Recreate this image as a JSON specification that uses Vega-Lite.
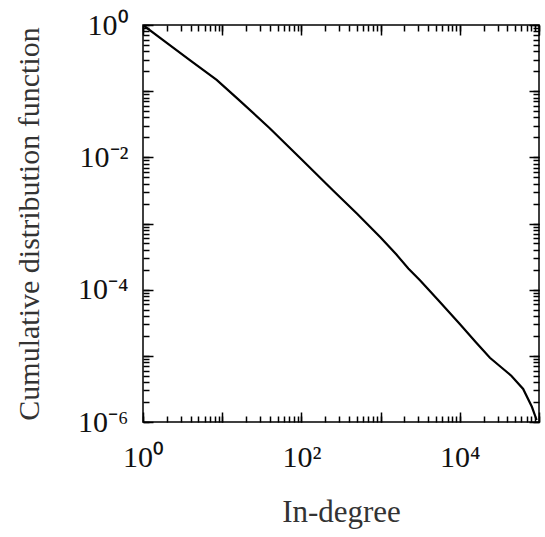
{
  "$schema": "https://vega.github.io/schema/vega-lite/v6.json",
  "width": 396,
  "height": 397,
  "autosize": "none",
  "padding": {"left": 143, "top": 25, "right": 6, "bottom": 115},
  "background": "white",
  "config": {
    "view": {"stroke": "black", "strokeWidth": 1.5},
    "axis": {"domain": false, "grid": false, "labelFont": "Liberation Serif", "titleFont": "Liberation Serif", "labelColor": "#111", "tickColor": "black", "tickWidth": 1.5}
  },
  "data": {
    "values": [
      {"degree": 1, "cdf": 1},
      {"degree": 1.995, "cdf": 0.537},
      {"degree": 3.981, "cdf": 0.2884},
      {"degree": 8.511, "cdf": 0.1479},
      {"degree": 15.85, "cdf": 0.07586},
      {"degree": 39.81, "cdf": 0.02754},
      {"degree": 100, "cdf": 0.009333},
      {"degree": 251.2, "cdf": 0.003162},
      {"degree": 501.2, "cdf": 0.001413},
      {"degree": 1000, "cdf": 0.0006166},
      {"degree": 1585, "cdf": 0.0003388},
      {"degree": 2239, "cdf": 0.0002089},
      {"degree": 3162, "cdf": 0.000138},
      {"degree": 5248, "cdf": 0.00007079},
      {"degree": 10000, "cdf": 0.0000302},
      {"degree": 15849, "cdf": 0.00001622},
      {"degree": 23988, "cdf": 0.000009333},
      {"degree": 31623, "cdf": 0.000007079},
      {"degree": 44668, "cdf": 0.000005012},
      {"degree": 63096, "cdf": 0.000003162},
      {"degree": 81283, "cdf": 0.000001698},
      {"degree": 93325, "cdf": 0.000001072}
    ]
  },
  "layer": [
    {
      "mark": {"type": "line", "color": "black", "strokeWidth": 2.2, "clip": true},
      "encoding": {
        "x": {"field": "degree", "type": "quantitative",
          "scale": {"type": "log", "domain": [1, 100000], "nice": false},
          "axis": {"orient": "bottom", "values": [1, 100, 10000], "labelExpr": "datum.value == 1 ? '10⁰' : datum.value == 100 ? '10²' : '10⁴'", "ticks": false, "labelPadding": 20, "labelFontSize": 30, "labelFlush": false, "labelDx": 7, "title": "In-degree", "titleFontSize": 31, "titleFontWeight": "normal", "titleColor": "#333", "titlePadding": 25}},
        "y": {"field": "cdf", "type": "quantitative",
          "scale": {"type": "log", "domain": [0.000001, 1], "nice": false},
          "axis": {"orient": "left", "values": [0.000001, 0.0001, 0.01, 1], "labelExpr": "datum.value == 1 ? '10⁰' : datum.value == 0.01 ? '10⁻²' : datum.value == 0.0001 ? '10⁻⁴' : '10⁻⁶'", "ticks": false, "labelPadding": 15, "labelFontSize": 30, "labelFlush": false, "labelDy": 4, "title": "Cumulative distribution function", "titleFontSize": 30, "titleFontWeight": "normal", "titleColor": "#333", "titlePadding": 33}}
      }
    },
    {
      "mark": {"type": "line", "opacity": 0},
      "encoding": {
        "x": {"field": "degree", "type": "quantitative", "scale": {"type": "log", "domain": [1, 100000], "nice": false},
          "axis": {"orient": "bottom", "tickCount": 500, "values": [1,2,3,4,5,6,7,8,9,10,20,30,40,50,60,70,80,90,100,200,300,400,500,600,700,800,900,1000,2000,3000,4000,5000,6000,7000,8000,9000,10000,20000,30000,40000,50000,60000,70000,80000,90000,100000], "labels": false, "tickSize": -6, "title": null}},
        "y": {"field": "cdf", "type": "quantitative", "scale": {"type": "log", "domain": [0.000001, 1], "nice": false},
          "axis": {"orient": "left", "tickCount": 500, "values": [0.000001,0.000002,0.000003,0.000004,0.000005,0.000006,0.000007,0.000008,0.000009,0.00001,0.00002,0.00003,0.00004,0.00005,0.00006,0.00007,0.00008,0.00009,0.0001,0.0002,0.0003,0.0004,0.0005,0.0006,0.0007,0.0008,0.0009,0.001,0.002,0.003,0.004,0.005,0.006,0.007,0.008,0.009,0.01,0.02,0.03,0.04,0.05,0.06,0.07,0.08,0.09,0.1,0.2,0.3,0.4,0.5,0.6,0.7,0.8,0.9,1], "labels": false, "tickSize": -6, "title": null}}
      }
    },
    {
      "mark": {"type": "line", "opacity": 0},
      "encoding": {
        "x": {"field": "degree", "type": "quantitative", "scale": {"type": "log", "domain": [1, 100000], "nice": false},
          "axis": {"orient": "top", "tickCount": 500, "values": [1,2,3,4,5,6,7,8,9,10,20,30,40,50,60,70,80,90,100,200,300,400,500,600,700,800,900,1000,2000,3000,4000,5000,6000,7000,8000,9000,10000,20000,30000,40000,50000,60000,70000,80000,90000,100000], "labels": false, "tickSize": -6, "title": null}},
        "y": {"field": "cdf", "type": "quantitative", "scale": {"type": "log", "domain": [0.000001, 1], "nice": false},
          "axis": {"orient": "right", "tickCount": 500, "values": [0.000001,0.000002,0.000003,0.000004,0.000005,0.000006,0.000007,0.000008,0.000009,0.00001,0.00002,0.00003,0.00004,0.00005,0.00006,0.00007,0.00008,0.00009,0.0001,0.0002,0.0003,0.0004,0.0005,0.0006,0.0007,0.0008,0.0009,0.001,0.002,0.003,0.004,0.005,0.006,0.007,0.008,0.009,0.01,0.02,0.03,0.04,0.05,0.06,0.07,0.08,0.09,0.1,0.2,0.3,0.4,0.5,0.6,0.7,0.8,0.9,1], "labels": false, "tickSize": -6, "title": null}}
      }
    },
    {
      "mark": {"type": "line", "opacity": 0},
      "encoding": {
        "x": {"field": "degree", "type": "quantitative", "scale": {"type": "log", "domain": [1, 100000], "nice": false},
          "axis": {"orient": "bottom", "tickCount": 500, "values": [1, 10, 100, 1000, 10000, 100000], "labels": false, "tickSize": -10, "title": null}},
        "y": {"field": "cdf", "type": "quantitative", "scale": {"type": "log", "domain": [0.000001, 1], "nice": false},
          "axis": {"orient": "left", "tickCount": 500, "values": [0.000001, 0.00001, 0.0001, 0.001, 0.01, 0.1, 1], "labels": false, "tickSize": -10, "title": null}}
      }
    },
    {
      "mark": {"type": "line", "opacity": 0},
      "encoding": {
        "x": {"field": "degree", "type": "quantitative", "scale": {"type": "log", "domain": [1, 100000], "nice": false},
          "axis": {"orient": "top", "tickCount": 500, "values": [1, 10, 100, 1000, 10000, 100000], "labels": false, "tickSize": -10, "title": null}},
        "y": {"field": "cdf", "type": "quantitative", "scale": {"type": "log", "domain": [0.000001, 1], "nice": false},
          "axis": {"orient": "right", "tickCount": 500, "values": [0.000001, 0.00001, 0.0001, 0.001, 0.01, 0.1, 1], "labels": false, "tickSize": -10, "title": null}}
      }
    }
  ],
  "resolve": {"axis": {"x": "independent", "y": "independent"}}
}
